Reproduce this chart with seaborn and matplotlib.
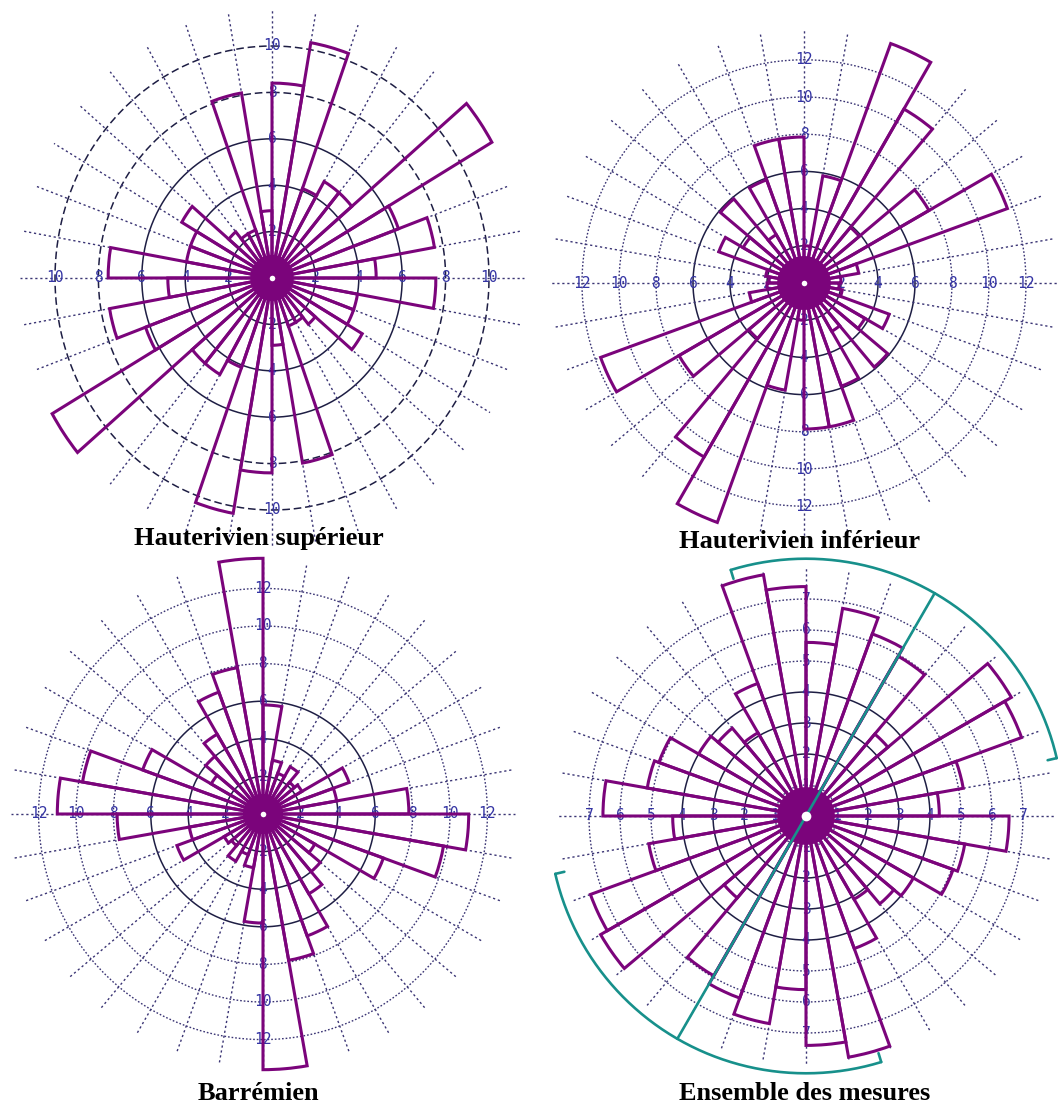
import numpy as np
import matplotlib
matplotlib.use("Agg")
import matplotlib.pyplot as plt
import seaborn as sns

sns.set_theme(style="white")
plt.rcParams['font.family'] = ['DejaVu Sans']

# ---------------- data ----------------
# 10-degree classes, azimuth of class start (clockwise from north)
class_start = list(range(0, 360, 10))

# frequencies (%) per class, read from the roses
haut_sup = [8.4, 10.3, 4.1, 4.8, 4.8, 11.7, 6.2, 7.6, 4.8, 7.55, 4.0, 4.0,
            4.8, 2.6, 2.2, 2.2, 8.1, 2.9,
            8.4, 10.3, 4.1, 4.8, 4.8, 11.7, 6.2, 7.6, 4.8, 7.55, 4.0, 4.0,
            4.8, 2.6, 2.2, 2.2, 8.1, 2.9]
haut_inf = [2.0, 5.85, 13.7, 10.8, 3.9, 7.8, 11.7, 3.0, 2.0, 1.9, 2.1, 4.9,
            3.8, 5.9, 3.0, 5.9, 7.85, 7.85,
            2.0, 5.85, 13.7, 10.8, 3.9, 7.8, 11.7, 3.0, 2.0, 1.9, 2.1, 4.9,
            3.8, 5.9, 3.0, 5.9, 7.85, 7.85]
barremien = [5.8, 2.9, 2.3, 2.9, 2.2, 2.4, 4.9, 4.0, 7.8, 11.0, 9.8, 6.85,
             3.2, 4.0, 4.9, 6.9, 7.9, 13.6,
             5.8, 2.9, 2.3, 2.9, 2.2, 2.4, 4.9, 4.0, 7.8, 11.0, 9.8, 6.85,
             3.2, 4.0, 4.9, 6.9, 7.9, 13.6]
ensemble = [5.6, 6.8, 6.25, 5.95, 3.45, 7.65, 7.4, 5.15, 4.3, 6.55, 5.2, 5.05,
            4.0, 3.7, 3.1, 4.55, 7.9, 7.4,
            5.6, 6.8, 6.25, 5.95, 3.45, 7.65, 7.4, 5.15, 4.3, 6.55, 5.2, 5.05,
            4.0, 3.7, 3.1, 4.55, 7.9, 7.4]

titles = ["Hauterivien supérieur", "Hauterivien inférieur",
          "Barrémien", "Ensemble des mesures"]

rings_sup = [2, 4, 6, 8, 10]
rings_inf = [2, 4, 6, 8, 10, 12]
rings_bar = [2, 4, 6, 8, 10, 12]
rings_ens = [1, 2, 3, 4, 5, 6, 7]

# annotation on the combined rose (azimuths in degrees, radius in %)
set_axis_az = [30, 210]
arc_ne = [343, 77]
arc_sw = [163, 257]
arc_radius = 8.3

# ---------------- style / layout ----------------
W, H = 1060, 1108
PURPLE = '#7b047b'
TEAL = '#17908b'
DARK = '#1e1e44'
DOT = '#3a3474'
LABEL = '#3434a4'

panels = [
    dict(values=haut_sup, rings=rings_sup, title=titles[0], cx=272, cy=278,
         sx=21.7, sy=23.2, R=12.5, spoke=11.6, blob=1.0, dot=4,
         solid=[2, 4, 6], dashed=[8, 10], tx=259, ty=539),
    dict(values=haut_inf, rings=rings_inf, title=titles[1], cx=804, cy=283,
         sx=18.5, sy=18.6, R=14.5, spoke=13.7, blob=1.45, dot=4,
         solid=[2, 4, 6], dashed=[], tx=800, ty=541),
    dict(values=barremien, rings=rings_bar, title=titles[2], cx=263, cy=814,
         sx=18.7, sy=18.8, R=14.5, spoke=13.5, blob=1.07, dot=4,
         solid=[2, 4, 6], dashed=[], tx=258, ty=1093),
    dict(values=ensemble, rings=rings_ens, title=titles[3], cx=806, cy=816,
         sx=31.0, sy=31.0, R=9.0, spoke=8.0, blob=0.93, dot=7,
         solid=[2, 3, 4], dashed=[], tx=805, ty=1093),
]

fig = plt.figure(figsize=(W / 100, H / 100), dpi=100)
fig.patch.set_facecolor('white')

tt = np.linspace(0, 2 * np.pi, 721)
theta_mid = np.deg2rad(np.array(class_start) + 5)
width = np.deg2rad(10)

axes = []
for p in panels:
    w = 2 * p['R'] * p['sx']
    h = 2 * p['R'] * p['sy']
    left = (p['cx'] - w / 2) / W
    bottom = 1 - (p['cy'] + h / 2) / H
    ax = fig.add_axes([left, bottom, w / W, h / H], projection='polar')
    ax.set_theta_zero_location('N')
    ax.set_theta_direction(-1)
    ax.set_axis_off()
    ax.set_facecolor('none')
    ax.set_aspect('auto')
    ax.set_ylim(0, p['R'])
    axes.append(ax)

    # rings
    for rv in p['rings']:
        if rv in p['solid']:
            ax.plot(tt, np.full_like(tt, rv), color=DARK, lw=1.1, zorder=1)
        elif rv in p['dashed']:
            ax.plot(tt, np.full_like(tt, rv), color=DARK, lw=1.1,
                    ls=(0, (5, 2.5)), zorder=1)
        else:
            ax.plot(tt, np.full_like(tt, rv), color=DOT, lw=1.0,
                    ls=(0, (1.2, 1.4)), zorder=1)
    # spokes
    for a in range(0, 360, 10):
        ax.plot([np.deg2rad(a)] * 2, [0, p['spoke']], color=DOT, lw=1.0,
                ls=(0, (1.6, 2.0)), zorder=1)
    # ring labels on the four axes
    for rv in p['rings']:
        for a in (0, 90, 180, 270):
            ax.text(np.deg2rad(a), rv, str(rv), ha='center', va='center',
                    fontsize=10.5, color=LABEL, family='DejaVu Sans Mono',
                    zorder=2)
    # rose bars
    ax.bar(theta_mid, p['values'], width=width, bottom=0, fill=False,
           edgecolor=PURPLE, linewidth=2.2, zorder=3)
    # central blob and white dot
    ax.fill(tt, np.full_like(tt, p['blob']), color=PURPLE, lw=0, zorder=4)
    ax.plot([0], [0], 'o', color='white', ms=p['dot'], mec='none', zorder=7)

    fig.text(p['tx'] / W, 1 - p['ty'] / H, p['title'], ha='center',
             va='center', fontsize=19, fontweight='bold',
             family='Liberation Serif', color='black')

# annotation on the combined rose
ax = axes[3]
for a0, a1 in (arc_ne, arc_sw):
    span = (a1 - a0) % 360
    aa = np.deg2rad(a0 + np.linspace(0, span, 200))
    ax.plot(aa, np.full_like(aa, arc_radius), color=TEAL, lw=1.9, zorder=6,
            solid_capstyle='round')
    for a in (a0, a1):
        ax.plot([np.deg2rad(a)] * 2, [arc_radius, arc_radius - 0.3],
                color=TEAL, lw=1.9, zorder=6)
ax.plot([np.deg2rad(set_axis_az[0]), 0, np.deg2rad(set_axis_az[1])],
        [arc_radius, 0, arc_radius], color=TEAL, lw=1.9, zorder=6)

fig.savefig('out.png', dpi=100, facecolor='white')
